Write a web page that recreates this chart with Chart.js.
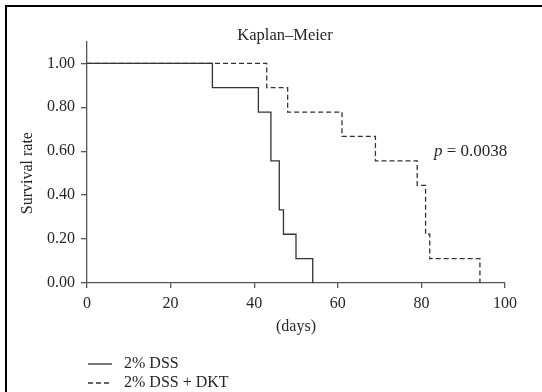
<!DOCTYPE html>
<html>
<head>
<meta charset="utf-8">
<title>Kaplan-Meier</title>
<script src="https://cdn.jsdelivr.net/npm/chart.js@4.4.1/dist/chart.umd.min.js"></script>
<style>
  html, body { margin: 0; padding: 0; background: #fff; }
  #frame {
    position: absolute; left: 5px; top: 5px;
    width: 600px; height: 500px;
    border-left: 2px solid #000; border-top: 2px solid #000;
  }
  #kmChart { position: absolute; left: 0; top: 0; }
</style>
</head>
<body>
<div id="frame"></div>
<canvas id="kmChart" width="542" height="392"></canvas>
<script>
// Survival data (days, survival fraction)
const dssDays = [0, 30, 41, 44, 46, 47, 50, 54];
const dssSurvival = [1.00, 0.889, 0.778, 0.556, 0.333, 0.222, 0.111, 0.00];

const dktDays = [0, 43, 48, 61, 69, 79, 81, 82, 94];
const dktSurvival = [1.00, 0.889, 0.778, 0.667, 0.556, 0.444, 0.222, 0.111, 0.00];

const seriesLabels = ["2% DSS", "2% DSS + DKT"];
const xTicks = [0, 20, 40, 60, 80, 100];
const yTicks = [0, 0.2, 0.4, 0.6, 0.8, 1.0];
const pValueText = "0.0038";

const FONT = '"Liberation Serif", "DejaVu Serif", serif';
const INK = "#262626";
const LINE = "#333";

function toPoints(xs, ys) {
  return xs.map((x, i) => ({ x: x, y: ys[i] }));
}

// title, axis titles, p value and legend
const textPlugin = {
  id: "kmText",
  afterDraw(chart) {
    const ctx = chart.ctx;
    const xs = chart.scales.x;
    const ys = chart.scales.y;
    ctx.save();
    ctx.fillStyle = INK;

    ctx.font = "16.5px " + FONT;
    ctx.textAlign = "center";
    ctx.textBaseline = "alphabetic";
    ctx.fillText("Kaplan\u2013Meier", 285, 39.5);

    ctx.font = "16px " + FONT;
    ctx.textBaseline = "middle";
    ctx.fillText("(days)", xs.getPixelForValue(50), 327);

    ctx.save();
    ctx.translate(28, (ys.getPixelForValue(0) + ys.getPixelForValue(1)) / 2);
    ctx.rotate(-Math.PI / 2);
    ctx.fillText("Survival rate", 0, 0);
    ctx.restore();

    // p value
    const px = xs.getPixelForValue(83);
    const py = ys.getPixelForValue(0.6) + 4.5;
    ctx.textAlign = "left";
    ctx.textBaseline = "alphabetic";
    ctx.font = "italic 17px " + FONT;
    ctx.fillText("p", px, py);
    const pw = ctx.measureText("p").width;
    ctx.font = "17px " + FONT;
    ctx.fillText(" = " + pValueText, px + pw, py);

    // legend
    const rows = [364, 383];
    const dashes = [[], [5, 3]];
    ctx.font = "16px " + FONT;
    ctx.textBaseline = "middle";
    rows.forEach((y, i) => {
      ctx.strokeStyle = LINE;
      ctx.lineWidth = 1.3;
      ctx.setLineDash(dashes[i]);
      ctx.beginPath();
      ctx.moveTo(88, y);
      ctx.lineTo(112, y);
      ctx.stroke();
      ctx.fillText(seriesLabels[i], 124, y);
    });
    ctx.restore();
  }
};

new Chart(document.getElementById("kmChart"), {
  type: "line",
  data: {
    datasets: [
      {
        label: seriesLabels[0],
        data: toPoints(dssDays, dssSurvival),
        borderColor: LINE,
        borderWidth: 1.3,
        stepped: true,
        pointRadius: 0,
        fill: false
      },
      {
        label: seriesLabels[1],
        data: toPoints(dktDays, dktSurvival),
        borderColor: LINE,
        borderWidth: 1.3,
        borderDash: [5, 3],
        stepped: true,
        pointRadius: 0,
        fill: false
      }
    ]
  },
  options: {
    responsive: false,
    animation: false,
    layout: { padding: { left: 0, top: 42, right: 37, bottom: 0 } },
    plugins: {
      legend: { display: false },
      tooltip: { enabled: false },
      title: { display: false }
    },
    scales: {
      x: {
        type: "linear",
        min: 0,
        max: 100,
        afterBuildTicks: (scale) => { scale.ticks = xTicks.map(v => ({ value: v })); },
        afterFit: (scale) => { scale.height = 392 - 283; },
        ticks: { color: INK, font: { family: FONT, size: 16 }, padding: 6, maxRotation: 0 },
        grid: { drawOnChartArea: false, drawTicks: true, tickLength: 5, color: "#555", lineWidth: 1.3 },
        border: { display: true, color: "#555", width: 1.3 }
      },
      y: {
        type: "linear",
        min: 0,
        max: 1.097,
        afterBuildTicks: (scale) => { scale.ticks = yTicks.map(v => ({ value: v })); },
        afterFit: (scale) => { scale.width = 87; },
        ticks: {
          color: INK,
          font: { family: FONT, size: 16 },
          padding: 6,
          callback: (v) => v.toFixed(2)
        },
        grid: { drawOnChartArea: false, drawTicks: true, tickLength: 6, color: "#555", lineWidth: 1.3 },
        border: { display: true, color: "#555", width: 1.3 }
      }
    }
  },
  plugins: [textPlugin]
});
</script>
</body>
</html>
